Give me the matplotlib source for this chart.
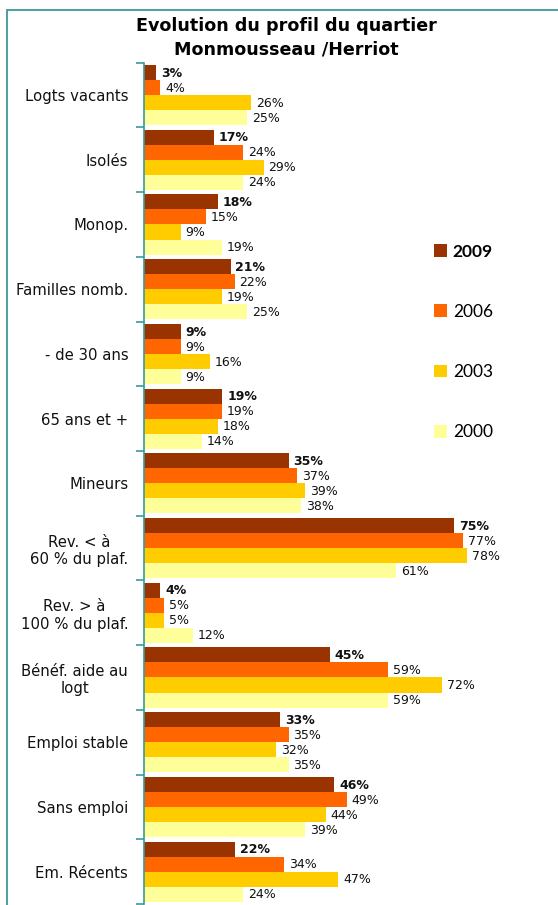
import numpy as np
import matplotlib
matplotlib.use("Agg")
import matplotlib.pyplot as plt
from matplotlib.patches import Rectangle, Patch

# Data
categories = ["Logts vacants", "Isolés", "Monop.", "Familles nomb.", "- de 30 ans",
              "65 ans et +", "Mineurs", "Rev. < à\n60 % du plaf.", "Rev. > à\n100 % du plaf.",
              "Bénéf. aide au\nlogt", "Emploi stable", "Sans emploi", "Em. Récents"]
years = ["2009", "2006", "2003", "2000"]
v2009 = [3, 17, 18, 21, 9, 19, 35, 75, 4, 45, 33, 46, 22]
v2006 = [4, 24, 15, 22, 9, 19, 37, 77, 5, 59, 35, 49, 34]
v2003 = [26, 29, 9, 19, 16, 18, 39, 78, 5, 72, 32, 44, 47]
v2000 = [25, 24, 19, 25, 9, 14, 38, 61, 12, 59, 35, 39, 24]
series = [v2009, v2006, v2003, v2000]
colors = ["#993300", "#FF6600", "#FFCC00", "#FFFF99"]
teal = "#3A9A9A"

W, H = 558, 905
fig = plt.figure(figsize=(W / 100, H / 100), dpi=100)
ax = fig.add_axes([143.5 / W, 1 - 904 / H, 1 - 143.5 / W, (904 - 62.7) / H])

y = np.arange(len(categories))
h = 0.232
for k, vals in enumerate(series):
    pos = y + (k - 1.5) * h
    ax.barh(pos, vals, height=h, color=colors[k], edgecolor="none")
    for p, v in zip(pos, vals):
        ax.annotate(f"{v}%", (v, p), xytext=(3.5, -0.5), textcoords="offset points",
                    ha="left", va="center", fontsize=9,
                    fontweight="bold" if k == 0 else "normal", color="#111111")

ax.set_xlim(0, 100)
ax.set_ylim(len(categories) - 0.5, -0.5)
ax.set_xticks([])
ax.set_yticks(y)
ax.set_yticklabels(categories, fontsize=10.7, multialignment="center", color="#111111")
ax.tick_params(axis="y", which="major", length=0, pad=11)
ax.set_yticks(np.arange(-0.5, len(categories), 1.0), minor=True)
ax.tick_params(axis="y", which="minor", length=6, width=1.2, color=teal)
for s in ["top", "right", "bottom"]:
    ax.spines[s].set_visible(False)
ax.spines["left"].set_color(teal)
ax.spines["left"].set_linewidth(1.2)
ax.patch.set_alpha(0)

# Title
fig.text(286 / W, 1 - 26 / H, "Evolution du profil du quartier", ha="center", va="center",
         fontsize=12.6, fontweight="bold")
fig.text(286 / W, 1 - 49 / H, "Monmousseau /Herriot", ha="center", va="center",
         fontsize=12.6, fontweight="bold")

# Legend
handles = [Patch(facecolor=c, edgecolor="none") for c in colors]
leg = ax.legend(handles, years, loc="upper left", bbox_to_anchor=(418 / W, 1 - 228 / H),
                bbox_transform=fig.transFigure, frameon=False, handlelength=0.75,
                handleheight=0.75, handletextpad=0.35, labelspacing=2.55,
                prop={"family": "Lato", "size": 12.5})
leg.get_texts()[0].set_fontweight("bold")

# Outer frame
fig.patches.append(Rectangle((7 / W, -0.05), 1.2, 1.05 - 10 / H, transform=fig.transFigure,
                             fill=False, edgecolor=teal, linewidth=1.3))

plt.savefig("out.png", dpi=100)
